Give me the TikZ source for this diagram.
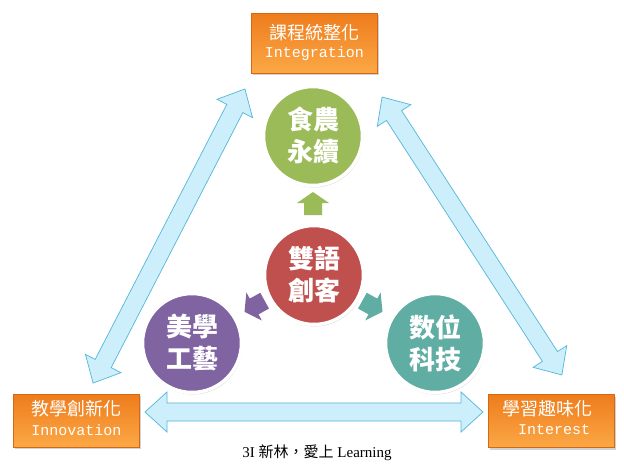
\documentclass[tikz,border=0pt]{standalone}
\usepackage{fontspec}
\setmainfont{Liberation Serif}
\setmonofont{Liberation Mono}
\newfontfamily\cjk{Noto Sans CJK TC}
\usetikzlibrary{shadows}
\definecolor{orangeA}{RGB}{238,124,28}
\definecolor{orangeB}{RGB}{252,168,70}
\definecolor{orangeD}{RGB}{214,104,20}
\definecolor{skyfill}{RGB}{204,239,251}
\definecolor{skyline}{RGB}{84,182,216}
\definecolor{cgreen}{RGB}{155,187,89}
\definecolor{cred}{RGB}{192,80,77}
\definecolor{cpurple}{RGB}{128,100,162}
\definecolor{cteal}{RGB}{95,173,163}
\tikzset{
  goalbox/.style={draw=orangeD, line width=0.6pt, top color=orangeA, bottom color=orangeB,
    minimum width=126pt, minimum height=#1, inner sep=0pt,
    drop shadow={opacity=0.35, shadow xshift=1.5pt, shadow yshift=-2pt}},
  goalzh/.style={inner sep=0pt, text=white, font=\cjk\fontsize{18}{20}\selectfont},
  goalen/.style={inner sep=0pt, text=white, font=\ttfamily\fontsize{15}{18}\selectfont},
  theme/.style={circle, draw=white, line width=3.5pt, fill=#1, minimum size=99pt, inner sep=0pt,
    align=center, text=white, font=\cjk\bfseries\fontsize{26}{32}\selectfont,
    drop shadow={opacity=0.3, shadow xshift=1pt, shadow yshift=-2pt}},
  bigarrow/.style={fill=skyfill, draw=skyline, line width=0.7pt, line join=miter},
  smallarrow/.style={fill=#1, draw=none},
}
\newcommand\skyarrow[4]{%
  \begin{scope}[shift={(#1,#2)},rotate=#3]
    \path[bigarrow] ({-#4/2},0) -- ({-#4/2+22},-20) -- ({-#4/2+22},-9) -- ({#4/2-22},-9)
      -- ({#4/2-22},-20) -- ({#4/2},0) -- ({#4/2-22},20) -- ({#4/2-22},9)
      -- ({-#4/2+22},9) -- ({-#4/2+22},20) -- cycle;
  \end{scope}}
\newcommand\smallarr[4]{%
  \begin{scope}[shift={(#1,#2)},rotate=#3]
    \path[smallarrow=#4] (-11,-9) -- (1,-9) -- (1,-16) -- (12,0) -- (1,16) -- (1,9) -- (-11,9) -- cycle;
  \end{scope}}
\begin{document}
\begin{tikzpicture}[x=1pt,y=-1pt]
\useasboundingbox (0,0) rectangle (624,467);
\fill[white] (0,0) rectangle (624,467);

% big double arrows
\skyarrow{169}{236}{62.7}{331}
\skyarrow{472}{236}{122.9}{331}
\skyarrow{314}{412}{0}{338}

% goal boxes
\node[goalbox=60pt] (integ) at (314.5,43) {};
\node[goalzh] (integzh) at (314.5,33) {課程統整化};
\node[goalen] (integen) at (314.5,54) {Integration};

\node[goalbox=53pt] (innov) at (76.5,420.5) {};
\node[goalzh] (innovzh) at (76.5,409) {教學創新化};
\node[goalen] (innoven) at (76.5,430) {Innovation};

\node[goalbox=53pt] (inter) at (551.5,421) {};
\node[goalzh] (interzh) at (547,409) {學習趣味化};
\node[goalen] (interen) at (554,430) {Interest};

% small arrows
\smallarr{313}{204}{90}{cgreen}
\smallarr{255}{306}{209}{cpurple}
\smallarr{372}{306}{-29}{cteal}

% theme circles
\node[theme=cgreen] (food) at (313,136) {食農\\永續};
\node[theme=cred] (bili) at (314,275) {雙語\\創客};
\node[theme=cpurple] (arts) at (192,343) {美學\\工藝};
\node[theme=cteal] (digi) at (435,343) {数位\\科技};

% caption
\node[inner sep=0pt, font=\fontsize{15}{17}\selectfont] (cap) at (317,453) {3I {\cjk 新林，愛上} Learning};
\end{tikzpicture}
\end{document}
